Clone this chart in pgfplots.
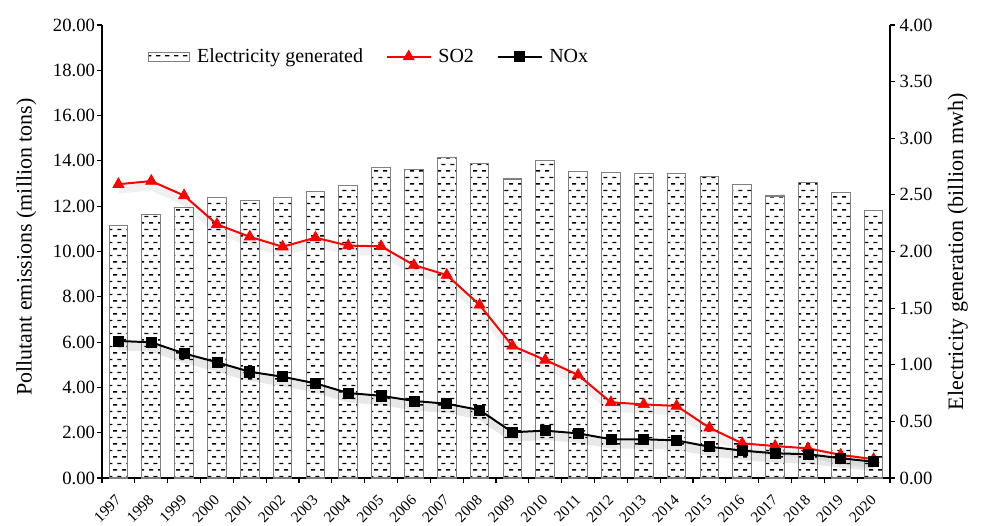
\documentclass[border=0pt]{standalone}
\usepackage{fontspec}
\setmainfont{Liberation Serif}
\usepackage{pgfplots}
\usepackage{pgfplotstable}
\pgfplotsset{compat=1.18}
\usetikzlibrary{patterns.meta}

\tikzdeclarepattern{
  name=hdash,
  type=uncolored,
  bounding box={(0pt,0pt) and (6.5pt,10pt)},
  tile size={(6.5pt,10pt)},
  code={
    \pgfsetlinewidth{1.1pt}
    \pgfpathmoveto{\pgfpoint{0.1pt}{2.5pt}}\pgfpathlineto{\pgfpoint{3.3pt}{2.5pt}}
    \pgfpathmoveto{\pgfpoint{3.35pt}{7.5pt}}\pgfpathlineto{\pgfpoint{6.5pt}{7.5pt}}
    \pgfusepath{stroke}
  }
}

\pgfplotstableread{
idx year elec so2 nox
0 1997 2.23 12.97 6.05
1 1998 2.33 13.11 5.99
2 1999 2.39 12.47 5.50
3 2000 2.48 11.20 5.11
4 2001 2.45 10.65 4.69
5 2002 2.48 10.21 4.47
6 2003 2.53 10.61 4.18
7 2004 2.58 10.26 3.75
8 2005 2.74 10.23 3.63
9 2006 2.72 9.40 3.40
10 2007 2.83 8.96 3.28
11 2008 2.78 7.64 3.00
12 2009 2.64 5.83 2.02
13 2010 2.80 5.21 2.09
14 2011 2.71 4.55 1.97
15 2012 2.70 3.34 1.71
16 2013 2.69 3.25 1.71
17 2014 2.69 3.18 1.66
18 2015 2.66 2.22 1.38
19 2016 2.59 1.53 1.21
20 2017 2.49 1.41 1.09
21 2018 2.61 1.31 1.05
22 2019 2.52 1.02 0.87
23 2020 2.36 0.83 0.72
}\datatable

\pgfplotsset{
  common/.style={
    at={(0pt,0pt)}, anchor=south west,
    scale only axis, width=591pt, height=339.75pt,
    xmin=-0.5, xmax=23.5,
    axis line style={line width=1.1pt, black},
    tick align=outside,
    major tick length=3.75pt, minor tick length=3.75pt,
    every tick/.style={line width=0.8pt, black},
    scaled y ticks=false,
    y tick label style={font=\fontsize{14}{16}\selectfont,
      /pgf/number format/fixed, /pgf/number format/fixed zerofill,
      /pgf/number format/precision=2, /pgf/number format/assume math mode=true},
    clip=false,
  },
  lineleg/.style={legend image code/.code={\draw[##1, mark repeat=2, mark phase=2] plot coordinates {(0pt,0pt) (16.5pt,0pt) (33pt,0pt)};}},
  barleg/.style={legend image code/.code={\draw[draw=black!50, line width=0.8pt, pattern={hdash}, pattern color=black] (0pt,-3.5pt) rectangle (31pt,3.5pt);}},
}

\begin{document}
\begin{tikzpicture}
\useasboundingbox (-76.5pt,-35.25pt) rectangle (659.25pt,358.5pt);
% Bars: right axis
\begin{axis}[common,
  ymin=0, ymax=4,
  axis x line*=bottom, axis y line*=right,
  ytick={0,0.5,...,4},
  ybar, bar width=0.57,
  xtick={0,...,23},
  xticklabels={1997,1998,1999,2000,2001,2002,2003,2004,2005,2006,2007,2008,2009,2010,2011,2012,2013,2014,2015,2016,2017,2018,2019,2020},
  major x tick style={draw=none},
  minor xtick={-0.5,0.5,...,23.5},
  xticklabel style={rotate=45, anchor=east, inner sep=0pt, font=\fontsize{11.5}{12}\selectfont},
  xticklabel shift=11pt,
  ylabel={Electricity generation (billion mwh)},
  every axis y label/.style={at={(axis description cs:1.086,0.5)}, rotate=90, anchor=center,
    font=\fontsize{16.5}{18}\selectfont},
]
\addplot[draw=black!50, line width=0.8pt, pattern={hdash}, pattern color=black]
  table[x=idx, y=elec]{\datatable};
\end{axis}
% Lines: left axis
\begin{axis}[common,
  ymin=0, ymax=20,
  axis x line=none, axis y line*=left,
  ytick={0,2,...,20},
  y tick label style={xshift=2pt},
  ylabel={Pollutant emissions (million tons)},
  every axis y label/.style={at={(axis description cs:-0.096,0.51)}, rotate=90, anchor=center,
    font=\fontsize{16.5}{18}\selectfont},
  legend columns=-1,
  legend style={draw=none, fill=none, inner sep=0pt, at={(axis description cs:0.058,0.93)}, anchor=west,
    font=\fontsize{15}{16}\selectfont,
    /tikz/every even column/.append style={column sep=15pt},
    /tikz/every odd column/.append style={column sep=3pt}},
]
\addlegendimage{barleg}
\addlegendentry{Electricity generated}
% soft shadows
\addplot[forget plot, draw=black, opacity=0.06, line width=6pt, transform canvas={yshift=-4pt}]
  table[x=idx, y=so2]{\datatable};
\addplot[forget plot, draw=black, opacity=0.09, line width=6pt, transform canvas={yshift=-4pt}]
  table[x=idx, y=nox]{\datatable};
\addplot[red, line width=1.5pt, mark=triangle*, mark size=4.8pt, mark options={fill=red, line width=0.5pt}, lineleg]
  table[x=idx, y=so2]{\datatable};
\addlegendentry{SO2}
\addplot[black, line width=1.5pt, mark=square*, mark size=3.8pt, mark options={fill=black, line width=0.5pt}, lineleg]
  table[x=idx, y=nox]{\datatable};
\addlegendentry{NOx}
\end{axis}
\end{tikzpicture}
\end{document}
